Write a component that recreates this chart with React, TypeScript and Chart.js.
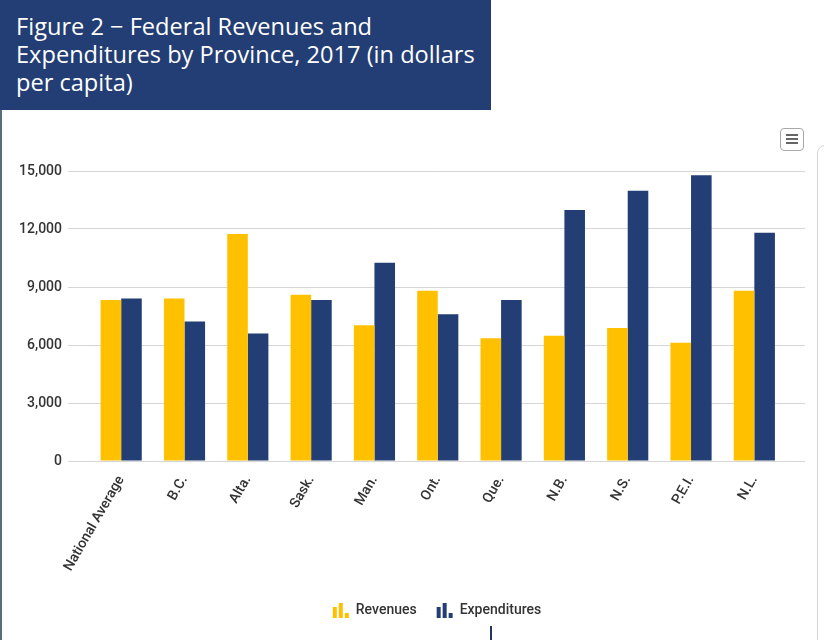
import React, { useEffect, useRef } from "react";
import { Chart, registerables } from "chart.js";

Chart.register(...registerables);

const categories = ["National Average", "B.C.", "Alta.", "Sask.", "Man.", "Ont.", "Que.", "N.B.", "N.S.", "P.E.I.", "N.L."];
const revenues = [8330, 8410, 11740, 8600, 7020, 8810, 6350, 6480, 6880, 6120, 8810];
const expenditures = [8410, 7210, 6600, 8330, 10260, 7590, 8330, 12980, 13980, 14780, 11810];
const yTicks = [0, 3000, 6000, 9000, 12000, 15000];
const seriesNames = ["Revenues", "Expenditures"];
const title = ["Figure 2 \u2212 Federal Revenues and", "Expenditures by Province, 2017 (in dollars", "per capita)"];

const YELLOW = "#ffc000";
const NAVY = "#233d75";

const legendPlugin = {
  id: "customLegend",
  afterDraw(chart: any) {
    const ctx = chart.ctx;
    ctx.save();
    ctx.font = "500 14px Roboto";
    ctx.textBaseline = "middle";
    const items = chart.data.datasets.map((d: any) => ({
      label: d.label,
      color: d.backgroundColor,
      w: 16 + 7 + ctx.measureText(d.label).width,
    }));
    const gap = 20;
    const total = items.reduce((s: number, it: any) => s + it.w, 0) + gap * (items.length - 1);
    let x = 437 - total / 2;
    const cy = 500;
    items.forEach((it: any) => {
      ctx.fillStyle = it.color;
      const base = cy + 8;
      ctx.fillRect(x, base - 11, 4, 11);
      ctx.fillRect(x + 6, base - 15, 4, 15);
      ctx.fillRect(x + 12, base - 5, 4, 5);
      ctx.fillStyle = "#333333";
      ctx.textAlign = "left";
      ctx.fillText(it.label, x + 23, cy);
      x += it.w + gap;
    });
    ctx.restore();
  },
};

function BarChart() {
  const ref = useRef<HTMLCanvasElement>(null);
  useEffect(() => {
    if (!ref.current) return;
    const chart = new Chart(ref.current, {
      type: "bar",
      data: {
        datasets: [
          {
            label: seriesNames[0],
            data: revenues.map((v, i) => ({ x: i, y: v })),
            backgroundColor: YELLOW,
            categoryPercentage: 0.65,
            barPercentage: 1,
          },
          {
            label: seriesNames[1],
            data: expenditures.map((v, i) => ({ x: i, y: v })),
            backgroundColor: NAVY,
            categoryPercentage: 0.65,
            barPercentage: 1,
          },
        ],
      },
      plugins: [legendPlugin],
      options: {
        animation: false,
        responsive: false,
        devicePixelRatio: 1,
        layout: { padding: { top: 61, right: 19, left: 0, bottom: 0 } },
        plugins: { legend: { display: false }, tooltip: { enabled: false } },
        scales: {
          x: {
            type: "linear",
            offset: false,
            min: -0.84,
            max: 10.8,
            grid: { display: false },
            border: { display: false },
            afterFit: (s: any) => {
              s.height = 179;
            },
            ticks: {
              stepSize: 1,
              includeBounds: false,
              autoSkip: false,
              maxRotation: 60,
              minRotation: 60,
              padding: 4,
              color: "#333333",
              font: { family: "Roboto", size: 14, weight: "500" },
              callback: (v: any) => (Number.isInteger(v) && categories[v] !== undefined ? categories[v] : ""),
            },
          },
          y: {
            min: 0,
            max: 15000,
            afterFit: (s: any) => {
              s.width = 68;
            },
            afterBuildTicks: (s: any) => {
              s.ticks = yTicks.map((v) => ({ value: v }));
            },
            border: { display: false },
            grid: { color: "#d6d6d6", lineWidth: 1, drawTicks: false },
            ticks: {
              padding: 6,
              color: "#333333",
              font: { family: "Roboto", size: 14, weight: "500" },
              callback: (v: any) => Number(v).toLocaleString("en-US"),
            },
          },
        },
      } as any,
    });
    return () => chart.destroy();
  }, []);
  return <canvas ref={ref} width={824} height={530} style={{ width: 824, height: 530, display: "block" }} />;
}

export default function App() {
  return (
    <div style={{ position: "fixed", left: 0, top: 0, width: 824, height: 640, overflow: "hidden", background: "#fff" }}>
      <div style={{ position: "absolute", left: 0, top: 110 }}>
        <BarChart />
      </div>
      <div
        style={{
          position: "absolute",
          left: 0,
          top: 0,
          width: 491,
          height: 110,
          background: NAVY,
          color: "#ffffff",
          fontFamily: "'Open Sans', sans-serif",
          fontSize: 23.6,
          lineHeight: "28px",
          boxSizing: "border-box",
          padding: "12px 0 0 16px",
        }}
      >
        {title.map((t, i) => (
          <div key={i} style={{ whiteSpace: "nowrap" }}>{t}</div>
        ))}
      </div>
      <div style={{ position: "absolute", left: 0, top: 110, width: 2, height: 530, background: "#5d6b7a" }} />
      <div style={{ position: "absolute", left: 490, top: 626, width: 2, height: 14, background: "#26335c" }} />
      <div
        style={{
          position: "absolute",
          left: 817,
          top: 145,
          width: 40,
          height: 600,
          border: "1px solid #d4d4d4",
          borderRadius: 8,
        }}
      />
      <div
        style={{
          position: "absolute",
          left: 780,
          top: 128,
          width: 24,
          height: 23,
          boxSizing: "border-box",
          border: "1px solid #a8a8a8",
          borderRadius: 4,
          background: "#fff",
        }}
      >
        {[6, 10, 14].map((y) => (
          <div key={y} style={{ position: "absolute", left: 5, top: y - 1, width: 12, height: 1.5, background: "#666" }} />
        ))}
      </div>
    </div>
  );
}
